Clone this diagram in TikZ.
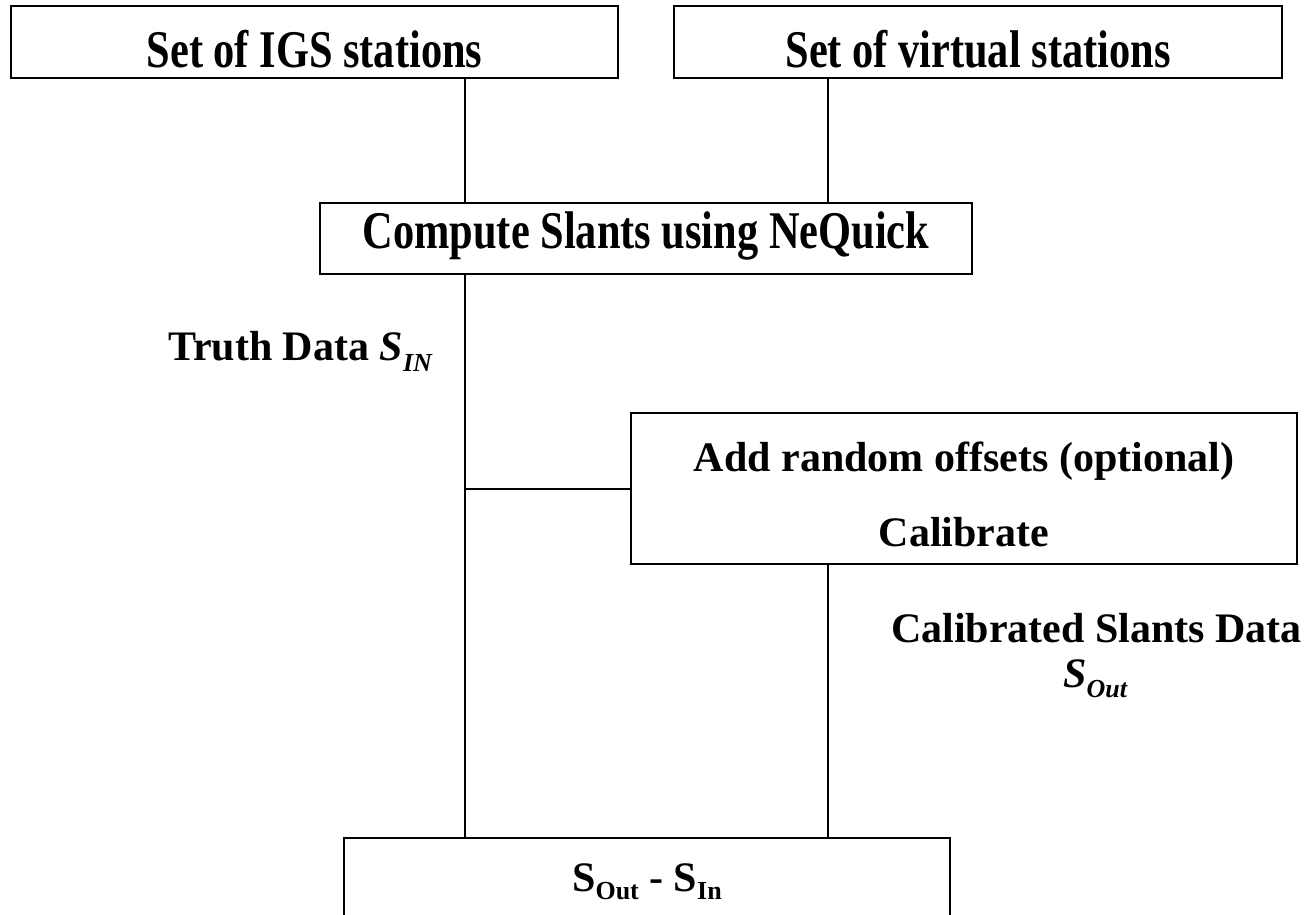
\documentclass[tikz,border=0pt]{standalone}
\usepackage{fontspec}
\setmainfont{Liberation Serif}
\usepackage{graphicx}
\newcommand{\condtxt}[1]{\scalebox{0.8}[1]{\fontsize{53}{60}\selectfont\bfseries #1}}
\newcommand{\subtxt}[2]{\raisebox{-#1pt}{\fontsize{26}{26}\selectfont #2}}
\begin{document}
\begin{tikzpicture}[x=1pt,y=-1pt,
  box/.style={draw, line width=2.2pt, inner xsep=0pt, inner ysep=0pt, anchor=north},
  conn/.style={line width=2.2pt},
  lbl/.style={inner sep=0pt, anchor=base west, font=\fontsize{42}{50}\selectfont\bfseries}]
\useasboundingbox (0,0) rectangle (1313,914);
\fill[white] (0,0) rectangle (1313,914);
% boxes
\node[box, minimum width=607pt, text height=61pt, text depth=11pt] (igs) at (314.5,5) {\condtxt{Set of IGS stations}};
\node[box, minimum width=608pt, text height=61pt, text depth=11pt] (virt) at (978,5) {\condtxt{Set of virtual stations}};
\node[box, minimum width=652pt, text height=45pt, text depth=26pt] (comp) at (646,202) {\condtxt{Compute Slants using NeQuick}};
\node[box, minimum width=666pt, text height=58pt, text depth=93pt, font=\fontsize{42}{75}\selectfont\bfseries] (calib) at (964,412)
  {\begin{tabular}[t]{@{}c@{}}Add random offsets (optional)\\ Calibrate\end{tabular}};
\node[box, minimum width=606pt, text height=53pt, text depth=50pt, font=\fontsize{42}{50}\selectfont\bfseries] (diff) at (647,837)
  {S\subtxt{8}{Out} - S\subtxt{8}{In}};
% labels
\node[lbl] (truth) at (168,360) {Truth Data \textit{S}\subtxt{11}{\itshape IN}};
\node[lbl] (calsl) at (891,642) {Calibrated Slants Data};
\node[lbl] (sout) at (1063,687) {\textit{S}\subtxt{10}{\itshape Out}};
% connectors
\coordinate (xl) at (465,0);
\coordinate (xr) at (828,0);
\coordinate (jn) at (465,489);
\draw[conn] (igs.south -| xl) -- (comp.north -| xl);
\draw[conn] (virt.south -| xr) -- (comp.north -| xr);
\draw[conn] (comp.south -| xl) -- (diff.north -| xl);
\draw[conn] (jn) -- (calib.west |- jn);
\draw[conn] (calib.south -| xr) -- (diff.north -| xr);
\end{tikzpicture}
\end{document}
